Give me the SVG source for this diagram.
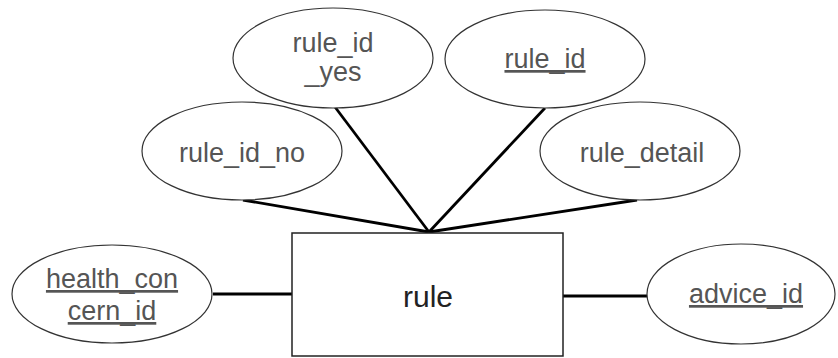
<svg xmlns="http://www.w3.org/2000/svg" width="838" height="358" viewBox="0 0 838 358">
<style>
.attr{fill:#fff;stroke:#333;stroke-width:1.2}
.t{font-family:"Liberation Sans",Arial,sans-serif;font-size:27px;fill:#555;text-anchor:middle}
.k{text-decoration:underline}
.c{stroke:#000;stroke-width:2.8;fill:none}
</style>
<rect width="838" height="358" fill="#fff"/>
<g id="connectors">
<line class="c" x1="243" y1="200" x2="429" y2="232"/>
<line class="c" x1="335" y1="107" x2="429" y2="232"/>
<line class="c" x1="545" y1="108" x2="429" y2="232"/>
<line class="c" x1="637" y1="200" x2="429" y2="232"/>
<line class="c" x1="213" y1="294" x2="292" y2="294"/>
<line class="c" x1="563" y1="296" x2="647" y2="296"/>
</g>
<g id="rule">
<rect x="292" y="233" width="271" height="123" fill="#fff" stroke="#222" stroke-width="1.5"/>
<text class="t" x="428" y="307" style="font-size:30px;fill:#222">rule</text>
</g>
<g id="rule_id_yes">
<ellipse class="attr" cx="333" cy="58" rx="100" ry="50"/>
<text class="t" x="333" y="52">rule_id</text>
<text class="t" x="333" y="81">_yes</text>
</g>
<g id="rule_id">
<ellipse class="attr" cx="545" cy="59" rx="100" ry="49"/>
<text class="t k" x="545" y="68">rule_id</text>
</g>
<g id="rule_id_no">
<ellipse class="attr" cx="242" cy="151" rx="100" ry="49"/>
<text class="t" x="242" y="162">rule_id_no</text>
</g>
<g id="rule_detail">
<ellipse class="attr" cx="640" cy="151" rx="100" ry="49"/>
<text class="t" x="642" y="162">rule_detail</text>
</g>
<g id="health_concern_id">
<ellipse class="attr" cx="112" cy="294" rx="100" ry="49"/>
<text class="t k" x="112" y="288">health_con</text>
<text class="t k" x="112" y="320">cern_id</text>
</g>
<g id="advice_id">
<ellipse class="attr" cx="741" cy="294" rx="94" ry="50"/>
<text class="t k" x="746" y="303">advice_id</text>
</g>
</svg>
